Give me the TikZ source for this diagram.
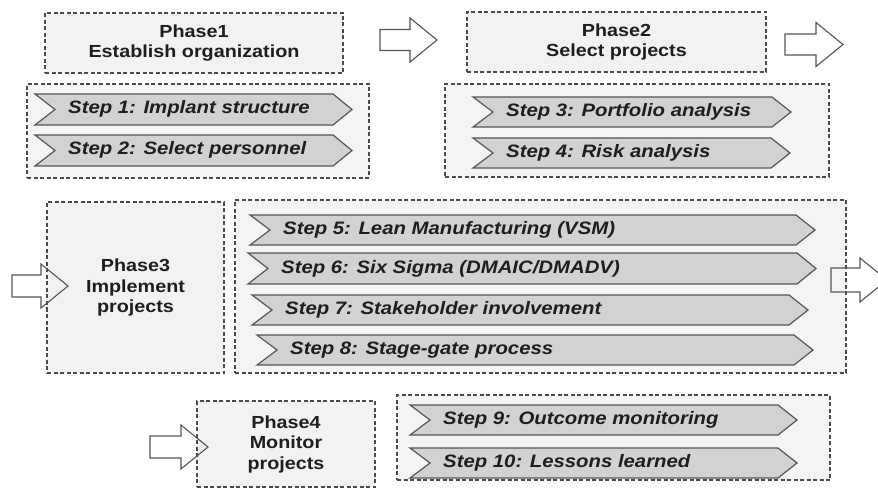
\documentclass[tikz,border=0pt]{standalone}
\usepackage{fontspec}
\setmainfont{Liberation Sans}
\newfontfamily\phasefont[FakeStretch=1.13]{Liberation Sans Bold}
\newfontfamily\stepfont[FakeStretch=1.13]{Liberation Sans Bold Italic}
\usetikzlibrary{calc}
\definecolor{edgegray}{HTML}{4A4A4A}
\definecolor{phasefill}{HTML}{F2F2F2}
\definecolor{groupfill}{HTML}{F4F4F4}
\definecolor{chevfill}{HTML}{D2D2D2}
\definecolor{chevedge}{HTML}{555555}
\definecolor{arrowedge}{HTML}{555555}
\definecolor{txt}{HTML}{1E1E1E}
\newcommand\chevron[6]{%
  \draw[chevstyle] (#2,#4) -- ({#3-19},#4) -- (#3,{(#4+#5)/2}) -- ({#3-19},#5) -- (#2,#5) -- ({#2+20},{(#4+#5)/2}) -- cycle;
  \node[steptext, anchor=base west] (#1) at ({#2+33},{(#4+#5)/2+4.5}) {#6};}
\newcommand\blockarrow[4]{%
  \draw[blockarr] (#1,{#3-#4}) -- ({#2-27},{#3-#4}) -- ({#2-27},{#3-22}) -- (#2,#3) -- ({#2-27},{#3+22}) -- ({#2-27},{#3+#4}) -- (#1,{#3+#4}) -- cycle;}
\tikzset{
  phasebox/.style={draw=edgegray, fill=phasefill, line width=1.1pt, dash pattern=on 4pt off 2.5pt,
    font=\phasefont\fontsize{17.5}{20.5}\selectfont, text=txt, align=center, inner sep=0pt},
  groupbox/.style={draw=edgegray, fill=groupfill, line width=1.1pt, dash pattern=on 4pt off 2.5pt, inner sep=0pt},
  chevstyle/.style={draw=chevedge, fill=chevfill, line width=1.2pt, line join=miter},
  steptext/.style={font=\stepfont\fontsize{18}{20}\selectfont, text=txt, inner sep=0pt},
  blockarr/.style={draw=arrowedge, line width=1.1pt, line join=miter}
}
\begin{document}
\begin{tikzpicture}[x=1pt,y=-1pt]
\useasboundingbox (0,0) rectangle (878,489);
\clip (0,0) rectangle (878,489);
\fill[white] (0,0) rectangle (878,489);

% Phase 1
\node[phasebox, minimum width=298, minimum height=60] (p1) at (194,43) {Phase1\\Establish organization};
\node[groupbox, minimum width=342, minimum height=94] (g1) at (198,131) {};
\chevron{s1}{35}{352}{94}{125}{Step 1: Implant structure}
\chevron{s2}{35}{352}{135}{166}{Step 2: Select personnel}

% Phase 2
\node[phasebox, minimum width=299, minimum height=60] (p2) at (616.5,42) {Phase2\\Select projects};
\node[groupbox, minimum width=384, minimum height=93] (g2) at (637,130.5) {};
\chevron{s3}{473}{791}{97}{127}{Step 3: Portfolio analysis}
\chevron{s4}{473}{790}{138}{168}{Step 4: Risk analysis}

% Phase 3
\node[phasebox, minimum width=177, minimum height=171] (p3) at (135.5,287.5) {Phase3\\Implement\\projects};
\node[groupbox, minimum width=611, minimum height=173] (g3) at (540.5,286.5) {};
\chevron{s5}{250}{815}{215}{245}{Step 5: Lean Manufacturing (VSM)}
\chevron{s6}{248}{816}{253}{284}{Step 6: Six Sigma (DMAIC/DMADV)}
\chevron{s7}{252}{808}{295}{325}{Step 7: Stakeholder involvement}
\chevron{s8}{257}{813}{335}{365}{Step 8: Stage-gate process}

% Phase 4
\node[phasebox, minimum width=178, minimum height=86] (p4) at (286,444) {Phase4\\Monitor\\projects};
\node[groupbox, minimum width=433, minimum height=85] (g4) at (613.5,437.5) {};
\chevron{s9}{410}{797}{405}{435}{Step 9: Outcome monitoring}
\chevron{s10}{410}{797}{448}{478}{Step 10: Lessons learned}

% block arrows
\blockarrow{380}{437}{40}{10.5}
\blockarrow{785}{843}{44.5}{10.5}
\blockarrow{12}{68}{286}{11}
\blockarrow{831}{887}{280}{12}
\blockarrow{150}{208}{447}{11}
\end{tikzpicture}
\end{document}
